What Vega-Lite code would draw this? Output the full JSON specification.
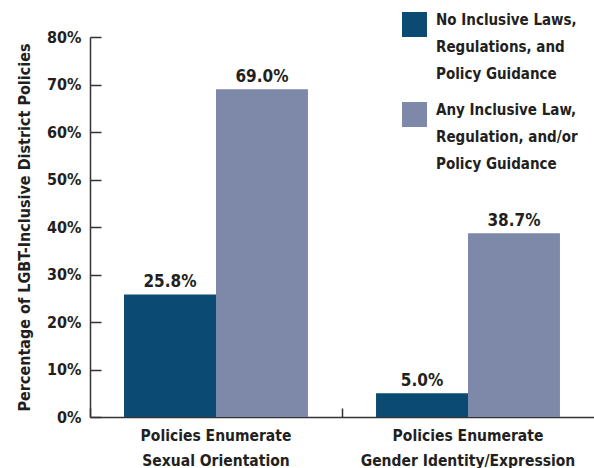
{
  "$schema": "https://vega.github.io/schema/vega-lite/v6.json",
  "width": 504,
  "height": 380,
  "padding": {"left": 90, "top": 37, "right": 0, "bottom": 51},
  "autosize": {"type": "none"},
  "background": "white",
  "config": {
    "view": {"stroke": null},
    "font": "DejaVu Sans Condensed",
    "style": {"guide-label": {"lineHeight": 27}},
    "axis": {"labelFont": "DejaVu Sans Condensed", "titleFont": "DejaVu Sans Condensed", "labelColor": "#231f20", "titleColor": "#231f20", "domainColor": "#333333", "tickColor": "#333333", "domainWidth": 1.5, "tickWidth": 1.5}
  },
  "data": {
    "values": [
      {"group": "Policies Enumerate Sexual Orientation", "series": "No Inclusive Laws, Regulations, and Policy Guidance", "value": 0.258},
      {"group": "Policies Enumerate Sexual Orientation", "series": "Any Inclusive Law, Regulation, and/or Policy Guidance", "value": 0.690},
      {"group": "Policies Enumerate Gender Identity/Expression", "series": "No Inclusive Laws, Regulations, and Policy Guidance", "value": 0.050},
      {"group": "Policies Enumerate Gender Identity/Expression", "series": "Any Inclusive Law, Regulation, and/or Policy Guidance", "value": 0.387}
    ]
  },
  "encoding": {
    "x": {
      "field": "group", "type": "nominal", "sort": null,
      "scale": {"paddingInner": 0, "paddingOuter": 0},
      "axis": {
        "title": null, "labelAngle": 0, "bandPosition": 0, "tickSize": -9, "grid": false,
        "labelFontSize": 15.5, "labelFontWeight": "bold", "labelPadding": 20, "labelLineHeight": 25,
        "labelBaseline": "top", "labelLimit": 0,
        "labelExpr": "datum.value == 'Policies Enumerate Sexual Orientation' ? ['Policies Enumerate', 'Sexual Orientation'] : ['Policies Enumerate', 'Gender Identity/Expression']"
      }
    },
    "xOffset": {"field": "series", "type": "nominal", "sort": null, "scale": {"paddingOuter": 0.37, "paddingInner": 0}},
    "y": {
      "field": "value", "type": "quantitative",
      "scale": {"domain": [0, 0.8], "nice": false},
      "axis": {
        "title": "Percentage of LGBT-Inclusive District Policies",
        "titleFontSize": 16, "titleFontWeight": "bold", "titlePadding": 14,
        "values": [0, 0.1, 0.2, 0.3, 0.4, 0.5, 0.6, 0.7, 0.8],
        "format": ".0%",
        "labelFontSize": 16, "labelFontWeight": "bold", "labelPadding": 20,
        "tickSize": -11, "grid": false
      }
    }
  },
  "layer": [
    {
      "mark": {"type": "bar"},
      "encoding": {
        "color": {
          "field": "series", "type": "nominal", "sort": null,
          "scale": {"range": ["#0b4a73", "#7e89a9"]},
          "legend": {
            "title": null, "orient": "none", "legendX": 312, "legendY": -25,
            "symbolType": "square", "symbolSize": 625, "symbolStrokeWidth": 0, "symbolOpacity": 1,
            "labelFont": "DejaVu Sans Condensed", "labelFontSize": 15, "labelFontWeight": "bold", "labelColor": "#231f20",
            "labelBaseline": "alphabetic", "labelOffset": 9, "labelLimit": 300, "rowPadding": 20,
            "labelExpr": "datum.value == 'No Inclusive Laws, Regulations, and Policy Guidance' ? ['No Inclusive Laws,', 'Regulations, and', 'Policy Guidance'] : ['Any Inclusive Law,', 'Regulation, and/or', 'Policy Guidance']"
          }
        }
      }
    },
    {
      "mark": {"type": "text", "dy": -12, "fontSize": 17, "fontWeight": "bold", "font": "DejaVu Sans Condensed", "color": "#231f20"},
      "encoding": {
        "text": {"field": "value", "type": "quantitative", "format": ".1%"},
        "color": {"value": "#231f20"}
      }
    }
  ]
}
